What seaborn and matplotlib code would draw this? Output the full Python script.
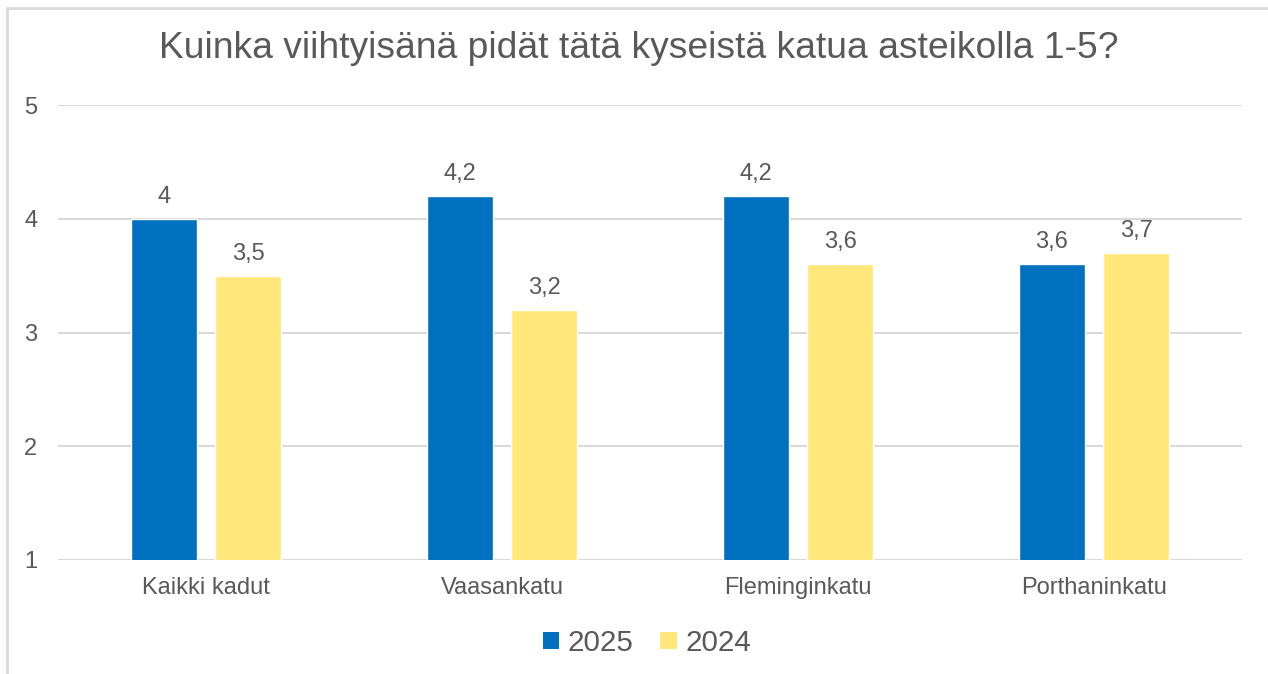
import matplotlib
matplotlib.use("Agg")
import matplotlib.pyplot as plt
import seaborn as sns
import pandas as pd
from matplotlib.lines import Line2D
from matplotlib.patches import Patch

categories = ["Kaikki kadut", "Vaasankatu", "Fleminginkatu", "Porthaninkatu"]
series_names = ["2025", "2024"]
values_2025 = [4.0, 4.2, 4.2, 3.6]
values_2024 = [3.5, 3.2, 3.6, 3.7]
y_ticks = [1, 2, 3, 4, 5]
title = "Kuinka viihtyisänä pidät tätä kyseistä katua asteikolla 1-5?"

colors = {"2025": "#0070C0", "2024": "#FFE779"}
text_color = "#595959"
grid_color = "#D9D9D9"

df = pd.DataFrame({
    "Katu": categories * 2,
    "Vuosi": [series_names[0]] * len(categories) + [series_names[1]] * len(categories),
    "Arvo": values_2025 + values_2024,
})

sns.set_theme(style="white")
plt.rcParams["font.family"] = ["Liberation Sans", "DejaVu Sans"]

W, H = 1268, 674
fig = plt.figure(figsize=(W / 100, H / 100), dpi=100)
ax = fig.add_axes([58 / W, 1 - 560 / H, (1242 - 58) / W, (560 - 105) / H])

sns.barplot(data=df, x="Katu", y="Arvo", hue="Vuosi", palette=colors,
            width=0.568, gap=0.214, ax=ax, legend=False, saturation=1,
            errorbar=None, zorder=3)

ax.set_ylim(1, 5)
ax.set_xlim(-0.5, len(categories) - 0.5)
ax.set_yticks(y_ticks)
ax.set_yticklabels([str(t) for t in y_ticks], fontsize=17, color=text_color)
ax.tick_params(axis="y", length=0, pad=15)
ax.tick_params(axis="x", length=0, pad=12, labelsize=17, labelcolor=text_color)
ax.set_xlabel("")
ax.set_ylabel("")
for s in ax.spines.values():
    s.set_visible(False)
ax.yaxis.grid(True, color=grid_color, linewidth=1.5, zorder=0)
ax.set_axisbelow(True)

def fmt(v):
    s = f"{v:.1f}".rstrip("0").rstrip(".")
    return s.replace(".", ",")

for cont in ax.containers:
    labels = [fmt(b.get_height()) for b in cont]
    ax.bar_label(cont, labels=labels, padding=8, fontsize=17, color=text_color)

fig.text(639 / W, 1 - 48 / H, title, ha="center", va="center", fontsize=26.8, color=text_color)

handles = [Patch(facecolor=colors[n], edgecolor="none") for n in series_names]
fig.legend(handles, series_names, loc="center", bbox_to_anchor=(647 / W, 1 - 643 / H),
           ncol=2, frameon=False, fontsize=21.3, labelcolor=text_color,
           handlelength=0.55, handleheight=0.55, handletextpad=0.3, columnspacing=0.9)

# outer frame
fig.add_artist(Line2D([7 / W, 7 / W], [0, 1 - 8 / H], color=grid_color, linewidth=2, transform=fig.transFigure))
fig.add_artist(Line2D([7 / W, 1], [1 - 8 / H, 1 - 8 / H], color=grid_color, linewidth=2, transform=fig.transFigure))

fig.savefig("out.png", dpi=100, facecolor="white")
